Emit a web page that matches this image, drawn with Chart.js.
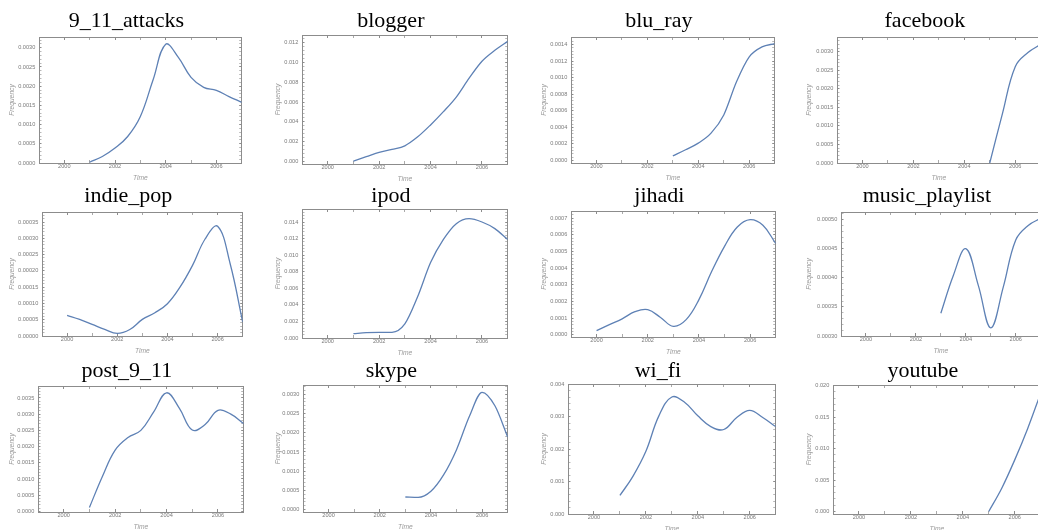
<!DOCTYPE html>
<html><head><meta charset="utf-8">
<script src="https://cdn.jsdelivr.net/npm/chart.js@4/dist/chart.umd.min.js"></script>
<style>
html,body{margin:0;padding:0;background:#fff;overflow:hidden;width:1038px;height:530px}
#wrap{position:relative;width:1038px;height:530px;overflow:hidden;background:#fff}
canvas{position:absolute}
</style></head><body><div id="wrap"></div>
<script>
// ---- data ----
const titles = ['9_11_attacks','blogger','blu_ray','facebook','indie_pop','ipod','jihadi','music_playlist','post_9_11','skype','wi_fi','youtube'];
const years = [2000,2000.5,2001,2001.5,2002,2002.5,2003,2003.5,2004,2004.5,2005,2005.5,2006,2006.5,2007];
const attacks911 = [null,null,0.00002,0.00017,0.00039,0.00069,0.00121,0.00216,0.00309,0.00275,0.00223,0.00197,0.00189,0.00173,0.00158];
const blogger = [null,null,0.00007,0.0005,0.00094,0.00124,0.0016,0.0025,0.0037,0.00503,0.0065,0.0084,0.0101,0.0112,0.0121];
const bluRay = [null,null,null,null,null,null,0.000056,0.00013,0.00021,0.00033,0.00055,0.00095,0.00125,0.00137,0.00141];
const facebook = [null,null,null,null,null,null,null,null,null,null,0.0,0.00134,0.0026,0.00298,0.0032];
const indiePop = [0.0000634,0.000051,0.0000358,0.0000204,0.0000082,0.00002,0.000051,0.0000716,0.0000992,0.00015,0.000217,0.000298,0.000337,0.000222,0.000043];
const ipod = [null,null,0.00052,0.00064,0.00068,0.00069,0.0017,0.005,0.0091,0.0119,0.0138,0.0144,0.0140,0.0132,0.0119];
const jihadi = [0.000024,0.00006,0.000095,0.000138,0.00015,0.000103,0.00005,0.00009,0.00021,0.00038,0.00053,0.000646,0.00069,0.000656,0.000547];
const musicPlaylist = [null,null,null,null,null,null,0.000339,0.000404,0.00045,0.000387,0.000314,0.000384,0.000465,0.00049,0.000502];
const post911 = [null,null,0.00012,0.00107,0.00189,0.00228,0.0025,0.00307,0.00366,0.00318,0.00251,0.00268,0.00312,0.003,0.00271];
const skype = [null,null,null,null,null,null,0.00033,0.00032,0.00048,0.00091,0.00156,0.00242,0.00305,0.0027,0.00189];
const wiFi = [null,null,0.00057,0.00116,0.00193,0.00302,0.0036,0.00343,0.00302,0.00269,0.0026,0.00297,0.00319,0.00297,0.00269];
const youtube = [null,null,null,null,null,null,null,null,null,null,0.0,0.0037,0.0082,0.0132,0.0188];
const series = [attacks911,blogger,bluRay,facebook,indiePop,ipod,jihadi,musicPlaylist,post911,skype,wiFi,youtube];

// axis ranges and tick labels
const yMin  = [0,-0.00023,-0.00003,0,0,0,-0.000014,0.0003,-0.00002,-0.00006,0,-0.0004];
const yMax  = [0.00328,0.01274,0.00149,0.0034,0.000381,0.01557,0.000742,0.000513,0.00387,0.00324,0.004,0.0201];
const yStep = [0.0005,0.002,0.0002,0.0005,0.00005,0.002,0.0001,0.00005,0.0005,0.0005,0.001,0.005];
const yDecimals = [4,3,4,4,5,3,4,5,4,4,3,3];
const xMin = 1999, xMax = 2007, xLabelStep = 2;

// ---- layout (plot boxes in page px: left, top, right, bottom, rowTop) ----
const boxes = [
 [39,37,243,163,0],[302,35,509,164,0],[571,37,776,163,0],[837,37,1042,163,0],
 [42,212,244,336,175],[302,209,509,338,175],[571,211,777,337,175],[841,212,1042,336,175],
 [38,386,245,512,350],[303,385,509,512,350],[568,384,777,514,350],[833,385,1042,514,350]
];
const freqLabelX = [12.5, 278, 544.5, 809.5];   // x centre of the rotated "Frequency" label per column
const monotone = [false,true,true,false,false,true,false,false,false,true,false,true];
const PADL = 40, PADT = 30, PADR = 2, PADB = 22;
const frameColor = '#8c8c8c';
const lineColor = '#5e81b5';
const tickFont = {family:'"Liberation Sans", Arial, sans-serif', size:5.6};
const axisTitleFont = {family:'"Liberation Sans", Arial, sans-serif', size:6.7, style:'italic'};

const titlePlugin = {
  id:'ptitle',
  afterDraw(chart, args, opts){
    const {ctx, chartArea} = chart;
    ctx.save();
    ctx.font = '22px "Liberation Serif", "Times New Roman", serif';
    ctx.fillStyle = '#000';
    ctx.textAlign = 'center';
    ctx.textBaseline = 'alphabetic';
    ctx.fillText(opts.text, (chartArea.left + chartArea.right)/2 - 14, opts.baseline);
    ctx.restore();
  }
};

function isMult(v, step){ const r = v/step; return Math.abs(r - Math.round(r)) < 1e-6; }

function makeTicks(min, max, step){
  const t = [];
  for (let k = Math.ceil(min/step - 1e-9); k*step <= max + step*1e-9; k++) t.push({value: +(k*step).toFixed(10)});
  return t;
}

const wrap = document.getElementById('wrap');
boxes.forEach((b, i) => {
  const [L,T,R,B,rowTop] = b;
  const cv = document.createElement('canvas');
  const W = R - L + PADL + PADR, H = B - T + PADT + PADB;
  cv.width = W; cv.height = H;
  cv.style.left = (L - PADL) + 'px'; cv.style.top = (T - PADT) + 'px';
  cv.style.width = W + 'px'; cv.style.height = H + 'px';
  wrap.appendChild(cv);

  const ymin = yMin[i], ymax = yMax[i], major = yStep[i], minor = major/5, dec = yDecimals[i];
  const yTicksFn = s => { s.ticks = makeTicks(ymin, ymax, minor); };
  const xTicksFn = s => { s.ticks = makeTicks(xMin, xMax, 1); };
  const yTickColor = c => (c.tick && isMult(c.tick.value, major)) ? frameColor : '#b8b8b8';
  const xTickColor = c => (c.tick && isMult(c.tick.value, xLabelStep)) ? frameColor : '#aaaaaa';
  const freqPad = freqLabelX[i % 4] - (L - PADL) - axisTitleFont.size * 1.2 / 2;

  const data = years.map((x, k) => ({x, y: series[i][k]})).filter(p => p.y !== null);

  new Chart(cv, {
    type: 'line',
    data: { datasets: [{ data, borderColor: lineColor, borderWidth: 1.3, pointRadius: 0,
      fill: false, cubicInterpolationMode: monotone[i] ? 'monotone' : 'default', tension: 0.4 }] },
    options: {
      responsive: false, animation: false, events: [],
      layout: { padding: {left:0, top:PADT, right:PADR, bottom:0} },
      plugins: { legend:{display:false}, tooltip:{enabled:false},
        ptitle: { text: titles[i], baseline: rowTop + 27 - (T - PADT) } },
      scales: {
        x: { type:'linear', position:'bottom', min:xMin, max:xMax,
          afterBuildTicks: xTicksFn, afterFit: s => { s.height = PADB; },
          grid: { drawOnChartArea:false, drawTicks:true, tickLength:-3, tickColor: xTickColor },
          border: { display:true, color:frameColor, width:1 },
          ticks: { autoSkip:false, maxRotation:0, minRotation:0, padding:3.3, font:tickFont, color:'#7a7a7a',
            callback: v => isMult(v, xLabelStep) && v > xMin && v < xMax ? String(Math.round(v)) : '' },
          title: { display:true, text:'Time', font:axisTitleFont, color:'#9a9a9a', padding:{top:0,bottom:3.3} } },
        x2: { type:'linear', position:'top', min:xMin, max:xMax,
          afterBuildTicks: xTicksFn, afterFit: s => { s.height = 0; },
          grid: { drawOnChartArea:false, drawTicks:true, tickLength:-3, tickColor: xTickColor },
          border: { display:true, color:frameColor, width:1 },
          ticks: { display:false } },
        y: { type:'linear', position:'left', min:ymin, max:ymax,
          afterBuildTicks: yTicksFn, afterFit: s => { s.width = PADL; },
          grid: { drawOnChartArea:false, drawTicks:true, tickLength:-2.5, tickColor: yTickColor },
          border: { display:true, color:frameColor, width:1 },
          ticks: { autoSkip:false, padding:6.2, font:tickFont, color:'#7a7a7a',
            callback: v => isMult(v, major) ? Number(v).toFixed(dec) : '' },
          title: { display:true, text:'Frequency', font:axisTitleFont, color:'#9a9a9a', padding:{top:freqPad,bottom:0} } },
        y2: { type:'linear', position:'right', min:ymin, max:ymax,
          afterBuildTicks: yTicksFn, afterFit: s => { s.width = 0; },
          grid: { drawOnChartArea:false, drawTicks:true, tickLength:-2.5, tickColor: yTickColor },
          border: { display:true, color:frameColor, width:1 },
          ticks: { display:false } }
      }
    },
    plugins: [titlePlugin]
  });
});
</script>
</body></html>
